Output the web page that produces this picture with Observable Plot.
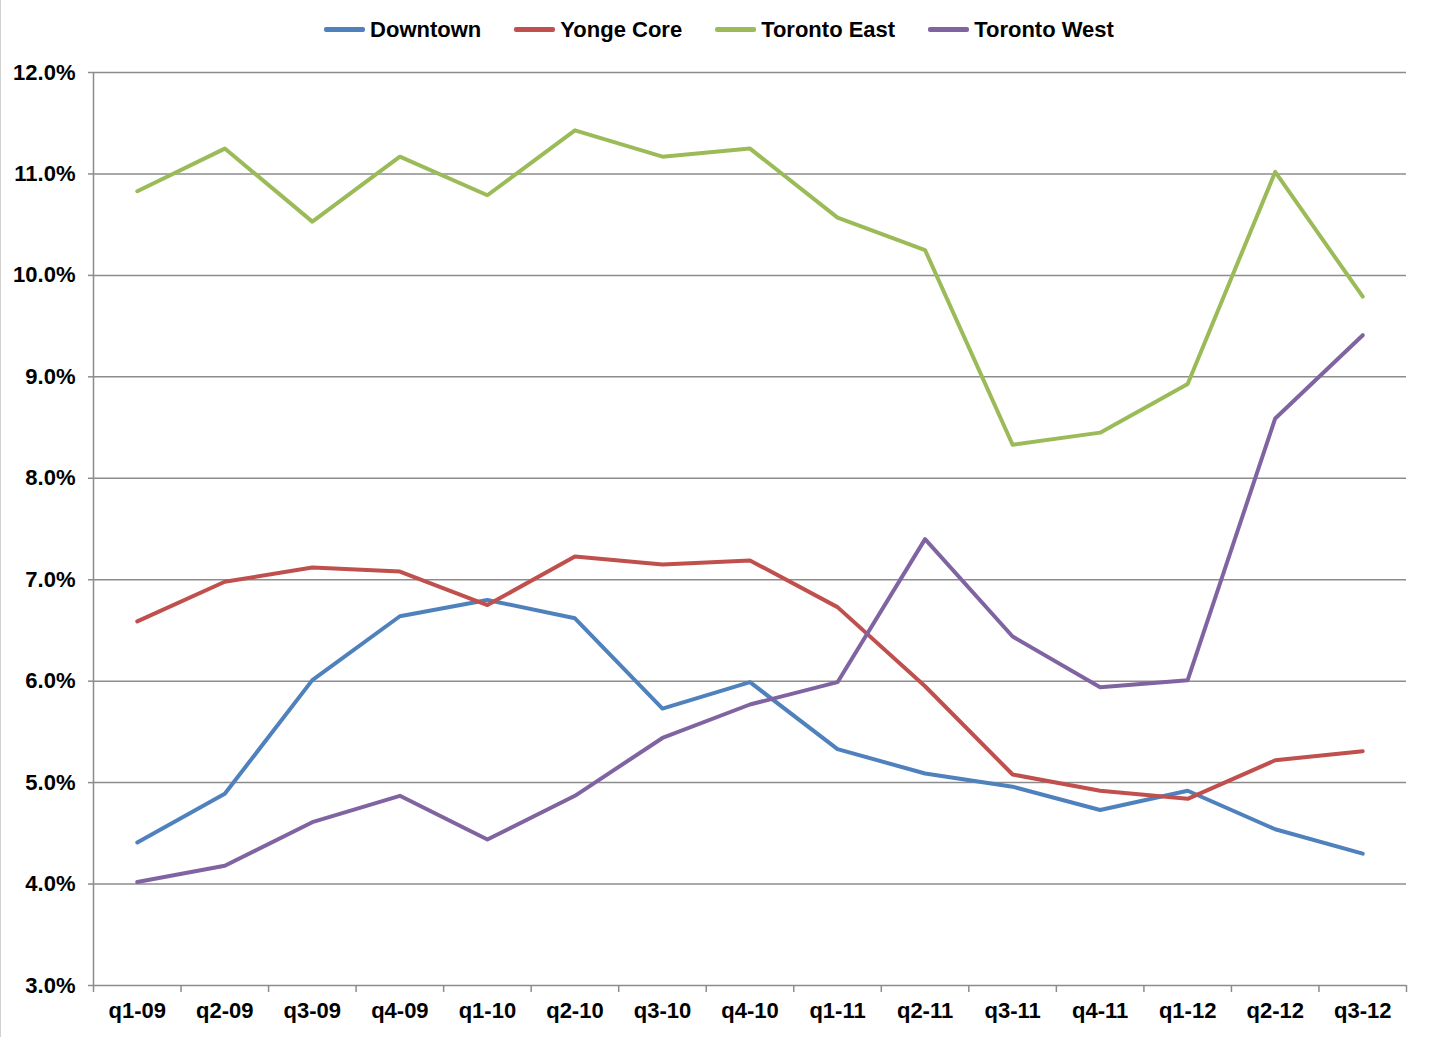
<!DOCTYPE html>
<html>
<head>
<meta charset="utf-8">
<script src="https://cdn.jsdelivr.net/npm/d3@7"></script>
<script src="https://cdn.jsdelivr.net/npm/@observablehq/plot@0.6"></script>
<style>
  html, body { margin: 0; padding: 0; background: #fff; }
  body { width: 1429px; height: 1037px; overflow: hidden; font-family: "Liberation Sans", Arial, sans-serif; box-sizing: border-box; border-left: 1px solid #d0d0d0; }
  #legend { height: 55px; display: flex; justify-content: center; align-items: center; gap: 33px; padding-left: 8px; padding-top: 4px; box-sizing: border-box; }
  .item { display: flex; align-items: center; font-weight: bold; font-size: 22px; color: #000; }
  .sw { width: 41px; height: 5px; border-radius: 2px; margin-right: 5px; }
  #chart { margin-left: -1px; }
</style>
</head>
<body>
<div id="legend"></div>
<div id="chart"></div>
<script>
const quarters = ["q1-09","q2-09","q3-09","q4-09","q1-10","q2-10","q3-10","q4-10","q1-11","q2-11","q3-11","q4-11","q1-12","q2-12","q3-12"];
const seriesNames = ["Downtown", "Yonge Core", "Toronto East", "Toronto West"];
const seriesColors = ["#4F81BD", "#C0504D", "#9BBB59", "#8064A2"];
const downtown    = [4.41, 4.89, 6.01, 6.64, 6.80, 6.62, 5.73, 5.99, 5.33, 5.09, 4.96, 4.73, 4.92, 4.54, 4.30];
const yongeCore   = [6.59, 6.98, 7.12, 7.08, 6.75, 7.23, 7.15, 7.19, 6.73, 5.95, 5.08, 4.92, 4.84, 5.22, 5.31];
const torontoEast = [10.83, 11.25, 10.53, 11.17, 10.79, 11.43, 11.17, 11.25, 10.57, 10.25, 8.33, 8.45, 8.93, 11.02, 9.79];
const torontoWest = [4.02, 4.18, 4.61, 4.87, 4.44, 4.87, 5.44, 5.77, 5.99, 7.40, 6.44, 5.94, 6.01, 8.59, 9.41];
const yTicks = [3, 4, 5, 6, 7, 8, 9, 10, 11, 12];

const seriesValues = [downtown, yongeCore, torontoEast, torontoWest];
const data = seriesValues.flatMap((vals, s) =>
  vals.map((v, i) => ({ series: seriesNames[s], i, v }))
);
const indices = quarters.map((q, i) => i);
const boundaries = [...quarters.map((q, i) => i - 0.5), quarters.length - 0.5];

// legend
const legend = document.getElementById("legend");
seriesNames.forEach((n, k) => {
  const it = document.createElement("div");
  it.className = "item";
  const sw = document.createElement("div");
  sw.className = "sw";
  sw.style.background = seriesColors[k];
  it.appendChild(sw);
  const t = document.createElement("span");
  t.textContent = n;
  it.appendChild(t);
  legend.appendChild(it);
});

const gray = "#8c8c8c";
const chart = Plot.plot({
  width: 1429,
  height: 982,
  marginTop: 17,
  marginBottom: 52,
  marginLeft: 93,
  marginRight: 23,
  style: { fontFamily: "'Liberation Sans', Arial, sans-serif", background: "transparent" },
  x: { type: "linear", domain: [-0.5, quarters.length - 0.5] },
  y: { domain: [3, 12] },
  color: { domain: seriesNames, range: seriesColors },
  marks: [
    Plot.gridY(yTicks, { stroke: gray, strokeOpacity: 1, strokeWidth: 1.5 }),
    Plot.axisY(yTicks, { tickSize: 5, tickPadding: 13, stroke: gray, strokeWidth: 1.5, fill: "#000", fontSize: 22, fontWeight: "bold", tickFormat: d => d.toFixed(1) + "%", label: null }),
    Plot.ruleX([-0.5], { stroke: gray, strokeWidth: 1.5 }),
    Plot.axisX(boundaries, { tickSize: 7, stroke: gray, strokeWidth: 1.5, tickFormat: () => "", label: null }),
    Plot.axisX(indices, { tickSize: 0, tickPadding: 17, fill: "#000", fontSize: 22, fontWeight: "bold", tickFormat: i => quarters[i], label: null }),
    Plot.lineY(data, { x: "i", y: "v", z: "series", stroke: "series", strokeWidth: 4, strokeLinejoin: "round", strokeLinecap: "round" })
  ]
});
document.getElementById("chart").appendChild(chart);
</script>
</body>
</html>
